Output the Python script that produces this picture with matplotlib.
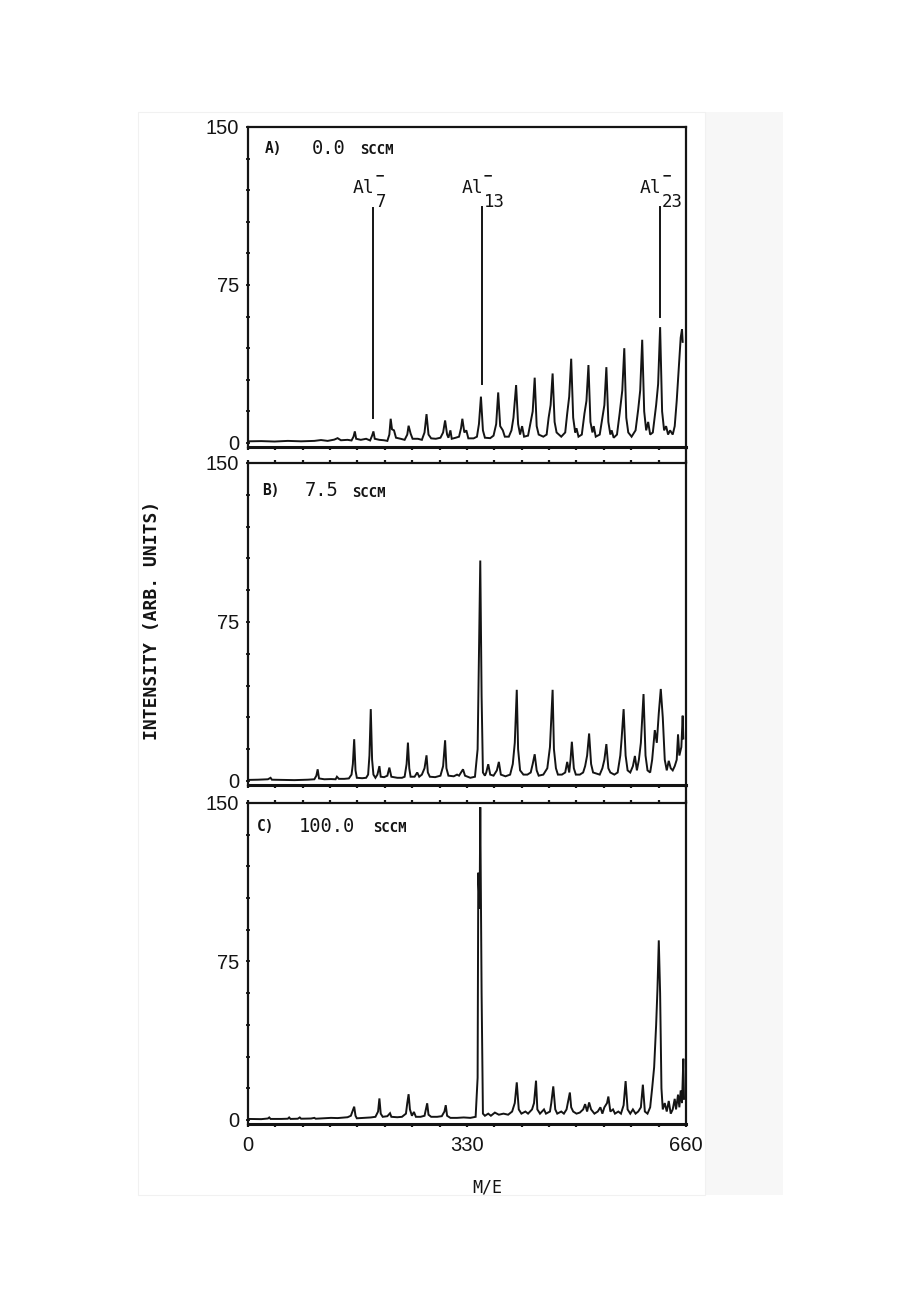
import numpy as np
import matplotlib
matplotlib.use('Agg')
import matplotlib.pyplot as plt
from matplotlib.lines import Line2D
from matplotlib.patches import Rectangle
from matplotlib.ticker import MultipleLocator, FixedLocator

mass_a = [0, 20, 40, 60, 80, 100, 110, 120, 130, 135, 140, 150, 156, 159, 161, 163, 170, 178, 184, 187,
          189, 191, 198, 205, 210, 213, 215, 217, 220, 223, 230, 236, 240, 242, 245, 248, 256, 262, 266, 269,
          272, 276, 283, 290, 294, 297, 300, 302, 305, 307, 313, 318, 321, 323, 326, 329, 332, 340, 345, 348,
          351, 354, 357, 365, 370, 374, 377, 380, 384, 387, 393, 397, 400, 404, 407, 410, 413, 416, 422, 426,
          429, 432, 435, 438, 445, 450, 453, 456, 459, 462, 465, 472, 478, 481, 484, 487, 490, 493, 495, 498,
          503, 507, 510, 513, 516, 519, 521, 524, 530, 534, 537, 540, 543, 546, 548, 551, 556, 560, 564, 567,
          570, 573, 578, 584, 588, 591, 594, 597, 600, 603, 606, 610, 615, 618, 621, 624, 627, 630, 633, 636,
          640, 643, 646, 649, 652, 654, 655]
int_a = [0.8, 0.9, 0.7, 1.0, 0.8, 1.0, 1.4, 1.0, 1.6, 2.3, 1.3, 1.5, 1.2, 3.0, 5.5, 2.0, 1.5, 2.0, 1.2, 3.5,
         5.5, 2.0, 1.5, 1.3, 1.0, 4.0, 11.5, 6.5, 6.0, 2.5, 2.0, 1.5, 4.0, 8.2, 4.5, 2.0, 2.0, 1.5, 5.0, 13.7,
         4.0, 2.2, 2.0, 2.5, 5.0, 10.7, 4.0, 2.5, 6.0, 2.0, 2.5, 3.0, 7.0, 11.5, 5.0, 6.0, 2.2, 2.2, 3.0, 9.0,
         22.0, 6.0, 2.5, 2.3, 3.5, 9.0, 24.0, 8.0, 6.0, 3.0, 3.0, 6.0, 12.0, 27.5, 9.0, 4.0, 8.0, 3.0, 3.5, 10.0,
         15.0, 31.0, 8.0, 4.0, 3.0, 4.0, 12.0, 18.0, 33.0, 10.0, 5.0, 3.0, 5.0, 14.0, 22.0, 40.0, 12.0, 5.0, 7.0, 3.0,
         4.0, 14.0, 20.0, 37.0, 10.0, 5.0, 8.0, 3.0, 4.0, 12.0, 18.0, 36.0, 10.0, 4.0, 6.0, 2.5, 4.0, 14.0, 25.0, 45.0,
         12.0, 5.0, 3.0, 6.0, 16.0, 25.0, 49.0, 15.0, 6.0, 10.0, 4.0, 5.0, 18.0, 28.0, 55.0, 15.0, 6.0, 8.0, 4.0, 6.0,
         4.0, 8.0, 20.0, 35.0, 50.0, 54.0, 48.0]

mass_b = [0, 15, 30, 34, 36, 50, 70, 90, 100, 103, 105, 107, 115, 125, 132, 134, 137, 145, 152, 156,
          158, 160, 162, 164, 172, 178, 181, 183, 185, 187, 189, 192, 195, 198, 200, 205, 210, 213, 216, 225,
          232, 236, 239, 241, 243, 245, 251, 255, 258, 262, 266, 269, 271, 274, 282, 290, 294, 297, 299, 302,
          310, 315, 318, 321, 324, 327, 335, 342, 346, 348, 350, 352, 354, 357, 359, 362, 365, 370, 375, 378,
          381, 388, 395, 399, 402, 405, 407, 410, 415, 421, 426, 429, 432, 435, 438, 445, 451, 455, 459, 461,
          464, 467, 473, 478, 481, 484, 486, 488, 491, 494, 500, 505, 508, 511, 514, 517, 520, 525, 530, 534,
          537, 540, 543, 546, 552, 557, 561, 563, 566, 569, 572, 576, 580, 583, 586, 589, 592, 596, 599, 602,
          606, 609, 613, 616, 619, 622, 625, 628, 631, 634, 637, 640, 643, 646, 648, 650, 653, 655, 656]
int_b = [0.5, 0.6, 0.8, 1.5, 0.6, 0.5, 0.4, 0.6, 0.8, 2.5, 5.5, 1.2, 0.8, 0.9, 0.8, 2.0, 1.0, 1.0, 1.2, 3.0,
         8.0, 19.7, 5.0, 1.5, 1.3, 1.5, 3.0, 12.0, 33.9, 10.0, 3.0, 1.5, 3.0, 7.0, 2.0, 1.8, 2.5, 6.3, 2.0, 1.5,
         1.5, 2.0, 8.0, 18.1, 6.0, 2.0, 2.0, 4.0, 2.0, 3.0, 6.0, 12.1, 4.0, 2.0, 1.8, 2.5, 7.0, 19.2, 6.0, 2.5,
         2.2, 3.0, 2.5, 4.0, 5.5, 2.5, 1.5, 2.0, 15.0, 60.0, 104.0, 40.0, 4.0, 2.5, 4.0, 7.9, 3.0, 2.5, 5.0, 9.0,
         3.0, 2.2, 3.0, 8.0, 18.0, 43.0, 15.0, 5.0, 3.0, 3.0, 4.0, 8.0, 12.6, 5.0, 2.5, 3.0, 6.0, 16.0, 43.0, 15.0,
         6.0, 3.0, 3.0, 4.0, 9.0, 4.0, 10.0, 18.5, 6.0, 3.0, 3.0, 4.0, 7.0, 12.0, 22.4, 8.0, 4.0, 3.5, 3.0, 6.0,
         10.0, 17.4, 6.0, 4.0, 3.0, 4.0, 12.0, 20.0, 33.9, 12.0, 5.0, 4.0, 7.0, 11.8, 5.0, 10.0, 18.0, 41.0, 12.0, 5.0,
         4.0, 10.0, 24.0, 18.0, 32.0, 43.4, 30.0, 10.0, 5.0, 9.5, 6.0, 5.0, 7.0, 10.0, 22.0, 12.0, 16.0, 30.8, 20.0]

mass_c = [0, 20, 30, 32, 34, 50, 60, 62, 64, 75, 78, 80, 95, 100, 102, 115, 125, 135, 145, 150,
          155, 158, 160, 162, 164, 175, 185, 192, 196, 198, 200, 203, 210, 214, 216, 225, 232, 238, 240, 242,
          244, 247, 250, 253, 260, 266, 268, 270, 272, 276, 285, 292, 296, 298, 300, 305, 315, 325, 335, 343,
          346, 347, 349, 350, 352, 354, 357, 362, 366, 372, 378, 385, 392, 398, 402, 405, 408, 412, 418, 422,
          428, 431, 434, 436, 440, 446, 449, 455, 457, 460, 463, 466, 472, 476, 480, 485, 487, 490, 495, 500,
          505, 508, 511, 514, 517, 522, 527, 531, 534, 537, 541, 543, 546, 550, 553, 558, 562, 566, 569, 572,
          576, 580, 584, 588, 592, 595, 598, 602, 606, 609, 612, 615, 617, 619, 621, 623, 625, 628, 631, 634,
          637, 640, 643, 645, 648, 650, 652, 654, 656, 657]
int_c = [0.5, 0.4, 0.7, 1.2, 0.5, 0.5, 0.6, 1.2, 0.5, 0.6, 1.2, 0.6, 0.7, 1.0, 0.6, 0.8, 1.0, 0.9, 1.2, 1.3,
         2.0, 4.5, 6.3, 2.0, 0.8, 1.0, 1.2, 1.5, 4.0, 10.2, 3.0, 1.5, 1.8, 3.2, 1.5, 1.3, 1.5, 3.0, 8.0, 12.2,
         5.0, 2.0, 3.8, 1.5, 1.5, 2.0, 5.0, 7.9, 2.5, 1.5, 1.5, 1.8, 4.0, 7.0, 2.0, 1.0, 1.0, 1.2, 1.0, 1.5,
         20.0, 117.0, 100.0, 148.0, 60.0, 3.0, 2.0, 3.0, 2.0, 3.5, 2.5, 3.0, 2.5, 4.0, 8.0, 17.8, 5.0, 3.0, 4.0, 3.0,
         5.0, 8.0, 18.6, 5.0, 3.0, 5.0, 3.0, 4.0, 8.0, 15.9, 5.0, 3.0, 4.0, 3.0, 5.0, 13.0, 6.0, 4.0, 3.0, 3.5,
         5.0, 7.5, 4.0, 8.3, 5.0, 3.0, 4.0, 6.0, 3.0, 6.0, 8.0, 11.1, 4.0, 5.0, 3.0, 4.0, 3.0, 7.0, 18.4, 5.0,
         3.0, 5.0, 3.0, 4.0, 6.0, 16.7, 4.0, 3.0, 6.0, 15.0, 25.0, 45.0, 62.0, 85.0, 60.0, 15.0, 5.0, 8.0, 4.0, 9.0,
         3.0, 5.0, 10.0, 5.0, 12.0, 6.0, 14.0, 8.0, 29.0, 10.0]

# Al_n^- marker lines in panel A: (m/e, bottom, top, n)
cluster_mass = [189, 352, 621]
cluster_bottom = [11.8, 28.0, 60.0]
cluster_top = [111.5, 112.0, 112.0]
cluster_n = ['7', '13', '23']

panel_letters = ['A)', 'B)', 'C)']
panel_flows = ['0.0', '7.5', '100.0']

x_max = 660
x_ticks = np.arange(0, 661, 41.25)

W, H = 920, 1302
MONO = 'DejaVu Sans Mono'
SANS = 'Liberation Sans'
INK = '#141414'


def frac(x0, y0, x1, y1):
    return [x0 / W, 1 - y1 / H, (x1 - x0) / W, (y1 - y0) / H]


fig = plt.figure(figsize=(W / 100, H / 100), dpi=100)
fig.patches.append(Rectangle((705 / W, 1 - 1195 / H), 78 / W, 1083 / H,
                             transform=fig.transFigure, facecolor='#f7f7f7',
                             edgecolor='none', zorder=-2))
fig.patches.append(Rectangle((138 / W, 1 - 1195 / H), 567 / W, 1083 / H,
                             transform=fig.transFigure, facecolor='white',
                             edgecolor='#f1f1f1', lw=0.8, zorder=-1))

boxes = [frac(248, 127, 686, 447), frac(248, 463, 686, 785), frac(248, 803, 686, 1124)]
traces = [(mass_a, int_a), (mass_b, int_b), (mass_c, int_c)]
label_pos = [(25, 140, 96, 169), (21, 137, 86, 157), (13, 139, 76, 188)]

axes = []
for i, (box, (mx, iy)) in enumerate(zip(boxes, traces)):
    ax = fig.add_axes(box)
    ax.set_facecolor('none')
    ax.plot(mx, iy, color=INK, lw=1.4, solid_joinstyle='miter')
    ax.set_xlim(0, x_max)
    ax.set_ylim(-1.9, 150)

    for side in ['left', 'top', 'bottom']:
        ax.spines[side].set_linewidth(1.6)
        ax.spines[side].set_color(INK)
    ax.spines['bottom'].set_linewidth(2.2)
    ax.spines['right'].set_visible(False)

    ax.yaxis.set_major_locator(FixedLocator([0, 75, 150]))
    ax.yaxis.set_minor_locator(MultipleLocator(15))
    ax.tick_params(axis='y', which='both', direction='inout', length=3, width=1.3,
                   colors=INK, labelsize=14.5, pad=5)
    for lab in ax.get_yticklabels():
        lab.set_family(SANS)

    ax.xaxis.set_major_locator(FixedLocator(x_ticks))
    ax.tick_params(axis='x', which='both', direction='out', length=2.5, width=1.6,
                   colors=INK, top=(i > 0), bottom=True,
                   labelbottom=False, labelsize=14.5, pad=6)

    lx, ly, fx, sx = label_pos[i]
    ax.text(lx, ly, panel_letters[i], family=MONO, fontsize=10.5, fontweight='bold',
            va='center', color=INK)
    ax.text(fx, ly, panel_flows[i], family=MONO, fontsize=13.5, va='center', color=INK)
    ax.text(sx, ly - 1, 'SCCM', family=MONO, fontsize=10, fontweight='bold',
            va='center', color=INK)
    axes.append(ax)

# x tick labels only on the bottom panel
axes[2].set_xticks(x_ticks)
axes[2].set_xticklabels(['0' if t == 0 else '330' if t == 330 else '660' if t == 660 else ''
                         for t in x_ticks], family=SANS)
axes[2].tick_params(axis='x', labelbottom=True)

# cluster markers in panel A
ax = axes[0]
for m, b, t, n in zip(cluster_mass, cluster_bottom, cluster_top, cluster_n):
    ax.plot([m, m], [b, t], color=INK, lw=1.4)
    ax.text(m + 2, 117, 'Al', family=MONO, fontsize=13, ha='right', va='bottom', color=INK)
    ax.text(m + 3, 118.5, n, family=MONO, fontsize=12.5, ha='left', va='top', color=INK)
    ax.text(m + 3, 123.5, '\u2212', family=MONO, fontsize=10, ha='left', va='bottom',
            color=INK, fontweight='bold')

# continuous right border
fig.add_artist(Line2D([686 / W, 686 / W], [1 - 127 / H, 1 - 1124 / H],
                      transform=fig.transFigure, color=INK, lw=1.6))

fig.text(152 / W, 1 - 620 / H, 'INTENSITY (ARB. UNITS)', rotation=90, family=MONO,
         fontsize=13, fontweight='bold', ha='center', va='center', color=INK)
fig.text(487 / W, 1 - 1187 / H, 'M/E', family=MONO, fontsize=12,
         ha='center', va='center', color=INK)

fig.savefig('out.png', dpi=100, facecolor='white')
plt.close(fig)
